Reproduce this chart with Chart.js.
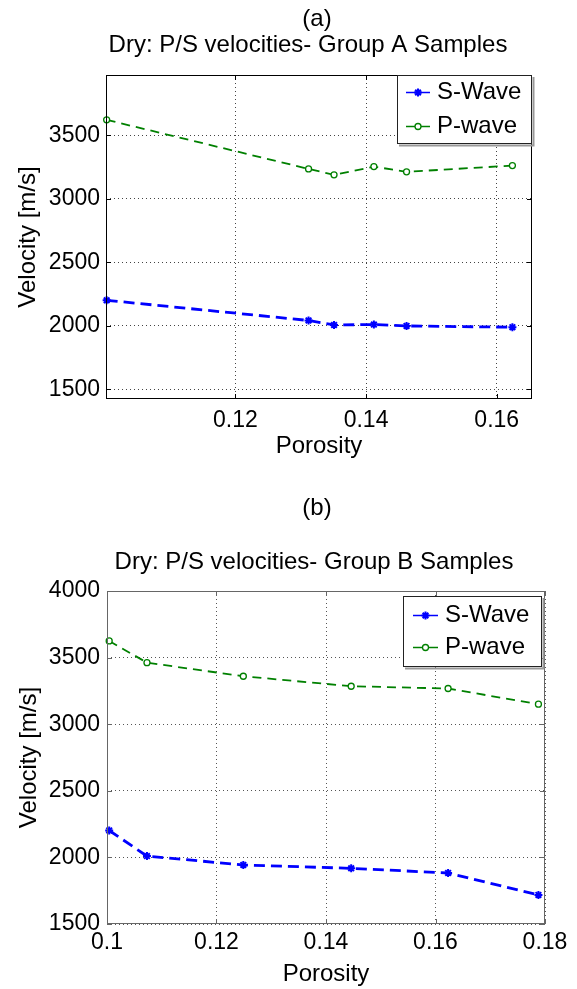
<!DOCTYPE html>
<html>
<head>
<meta charset="utf-8">
<script src="https://cdn.jsdelivr.net/npm/chart.js@4"></script>
<style>
  body { margin: 0; background: #fff; }
  #wrap { position: relative; width: 577px; height: 989px; }
  canvas { position: absolute; left: 0; }
</style>
</head>
<body>
<div id="wrap">
  <canvas id="chartA" width="577" height="470" style="top:0"></canvas>
  <canvas id="chartB" width="577" height="519" style="top:470px"></canvas>
</div>
<script>
// group A samples
const xA = [0.1003, 0.1312, 0.1351, 0.1412, 0.1462, 0.1624];
const sWaveA = [2202, 2043, 2008, 2011, 2000, 1990];
const pWaveA = [3622, 3236, 3189, 3254, 3213, 3262];
const xTicksA = [0.12, 0.14, 0.16];
const yTicksA = [1500, 2000, 2500, 3000, 3500];

// group B samples
const xB = [0.1004, 0.1073, 0.1249, 0.1446, 0.1623, 0.1788];
const sWaveB = [2202, 2010, 1943, 1918, 1883, 1718];
const pWaveB = [3625, 3462, 3360, 3285, 3268, 3150];
const xTicksB = [0.1, 0.12, 0.14, 0.16, 0.18];
const yTicksB = [1500, 2000, 2500, 3000, 3500, 4000];

Chart.defaults.font.family = '"Liberation Sans", Arial, sans-serif';
Chart.defaults.color = '#000';

const toPoints = (xs, ys) => xs.map((x, i) => ({ x: x, y: ys[i] }));

// matlab style box around the axes with inward ticks
const axesBox = {
  id: 'axesBox',
  afterDatasetsDraw(chart, args, opts) {
    const { ctx, chartArea: a, scales } = chart;
    ctx.save();
    ctx.strokeStyle = opts.color;
    ctx.lineWidth = 1;
    ctx.strokeRect(a.left + 0.5, a.top + 0.5, a.width - 1, a.height - 1);
    ctx.beginPath();
    scales.x.ticks.forEach(t => {
      const px = Math.round(scales.x.getPixelForValue(t.value)) + 0.5;
      ctx.moveTo(px, a.bottom); ctx.lineTo(px, a.bottom - 5);
      ctx.moveTo(px, a.top); ctx.lineTo(px, a.top + 5);
    });
    scales.y.ticks.forEach(t => {
      const py = Math.round(scales.y.getPixelForValue(t.value)) + 0.5;
      ctx.moveTo(a.left, py); ctx.lineTo(a.left + 5, py);
      ctx.moveTo(a.right, py); ctx.lineTo(a.right - 5, py);
    });
    ctx.stroke();
    ctx.restore();
  }
};

// move the title blocks so they sit where matlab put them
const titleShift = {
  id: 'titleShift',
  afterLayout(chart, args, o) {
    chart.boxes.forEach(b => {
      if (!b.options || typeof b.options.text !== 'string') return;
      const c = b.options.text.charAt(0) === '(' ? o.tagX : o.titleX;
      b.left = c - 250;
      b.right = c + 250;
    });
  }
};

// legend box inside the plot, top right
const boxLegend = {
  id: 'boxLegend',
  afterDraw(chart, args, o) {
    const { ctx, chartArea } = chart;
    const x = chartArea.right - o.right - o.width;
    const y = chartArea.top + o.top;
    ctx.save();
    ctx.fillStyle = '#fff';
    ctx.fillRect(x, y, o.width, o.height);
    ctx.strokeStyle = '#999';
    ctx.beginPath();
    ctx.moveTo(x + o.width + 2.5, y + 2); ctx.lineTo(x + o.width + 2.5, y + o.height + 2.5);
    ctx.lineTo(x + 2, y + o.height + 2.5);
    ctx.stroke();
    ctx.strokeStyle = '#222';
    ctx.lineWidth = 1;
    ctx.strokeRect(x + 0.5, y + 0.5, o.width, o.height);
    ctx.font = '24px "Liberation Sans", Arial, sans-serif';
    ctx.textBaseline = 'middle';
    chart.data.datasets.forEach((ds, i) => {
      const cy = Math.round(y + o.rowTop + i * o.rowGap) + 0.5;
      ctx.strokeStyle = ds.borderColor;
      ctx.lineWidth = 1.5;
      ctx.beginPath();
      ctx.moveTo(x + o.lineX0, cy); ctx.lineTo(x + o.lineX1, cy);
      ctx.stroke();
      ctx.fillStyle = ds.pointBackgroundColor;
      ctx.lineWidth = ds.pointBorderWidth;
      Chart.helpers.drawPoint(ctx, {
        pointStyle: ds.pointStyle, radius: ds.pointRadius,
        borderWidth: ds.pointBorderWidth, rotation: 0
      }, x + (o.lineX0 + o.lineX1) / 2, cy);
      ctx.fillStyle = '#000';
      ctx.fillText(ds.label, x + o.textX, cy);
    });
    ctx.restore();
  }
};

function makeChart(id, p) {
  return new Chart(document.getElementById(id), {
    type: 'line',
    data: {
      datasets: [
        {
          label: 'S-Wave', data: toPoints(p.xs, p.s),
          borderColor: '#0000ff', borderWidth: 2.8, borderDash: [11, 6],
          pointStyle: 'star', pointRadius: 4, pointBorderWidth: 2,
          pointBorderColor: '#0000ff', pointBackgroundColor: '#0000ff',
          clip: false
        },
        {
          label: 'P-wave', data: toPoints(p.xs, p.p),
          borderColor: '#008000', borderWidth: 1.8, borderDash: [9, 6],
          pointStyle: 'circle', pointRadius: 3, pointBorderWidth: 1.3,
          pointBorderColor: '#008000', pointBackgroundColor: '#ffffff',
          clip: false
        }
      ]
    },
    options: {
      responsive: false,
      animation: false,
      devicePixelRatio: 1,
      layout: { autoPadding: false, padding: { left: 0, top: 0, right: p.padRight, bottom: 0 } },
      plugins: {
        legend: { display: false },
        tooltip: { enabled: false },
        title: {
          display: true, text: p.tag,
          font: { size: 24, weight: 'normal', lineHeight: 1 },
          padding: { top: p.tagTop, bottom: 0 }
        },
        subtitle: {
          display: true, text: p.title,
          font: { size: 24, weight: 'normal', lineHeight: 1 }, color: '#000',
          padding: { top: p.titleGap, bottom: p.titleBottom }
        },
        axesBox: { color: p.frame },
        titleShift: { tagX: p.tagX, titleX: p.titleX },
        boxLegend: p.legend
      },
      scales: {
        x: {
          type: 'linear', min: p.xMin, max: p.xMax,
          afterBuildTicks: s => { s.ticks = p.xTicks.map(v => ({ value: v })); },
          afterFit: s => { s.height = p.xAxisH; },
          grid: { color: p.grid, lineWidth: 1, drawTicks: false },
          border: { display: false, dash: [1, 3] },
          ticks: {
            padding: p.xTickPad, maxRotation: 0, autoSkip: false,
            font: { size: 23 },
            callback: v => String(Math.round(v * 100) / 100)
          },
          title: {
            display: true, text: 'Porosity',
            font: { size: 24 }, padding: { top: 0, bottom: p.xTitlePad }
          }
        },
        y: {
          type: 'linear', min: p.yMin, max: p.yMax,
          afterBuildTicks: s => { s.ticks = p.yTicks.map(v => ({ value: v })); },
          afterFit: s => { s.width = p.yAxisW; },
          grid: { color: p.grid, lineWidth: 1, drawTicks: false },
          border: { display: false, dash: [1, 3] },
          ticks: { padding: p.yTickPad, autoSkip: false, font: { size: 23 }, callback: v => String(v) },
          title: {
            display: true, text: 'Velocity [m/s]',
            font: { size: 24 }, padding: { top: p.yTitlePad, bottom: 0 }
          }
        }
      }
    },
    plugins: [titleShift, axesBox, boxLegend]
  });
}

makeChart('chartA', {
  xs: xA, s: sWaveA, p: pWaveA,
  xTicks: xTicksA, yTicks: yTicksA,
  xMin: 0.1002, xMax: 0.1654, yMin: 1425, yMax: 3975,
  tag: '(a)', title: 'Dry: P/S velocities- Group A Samples',
  tagX: 317, titleX: 308,
  tagTop: 7, titleGap: 2, titleBottom: 18,
  padRight: 45, xAxisH: 71, yAxisW: 106,
  xTickPad: 8, xTitlePad: 9, yTickPad: 6, yTitlePad: 14,
  frame: '#000', grid: '#444',
  legend: { width: 134, height: 68, right: 1, top: 0, rowTop: 17, rowGap: 34, lineX0: 9, lineX1: 33, textX: 40 }
});

makeChart('chartB', {
  xs: xB, s: sWaveB, p: pWaveB,
  xTicks: xTicksB, yTicks: yTicksB,
  xMin: 0.1, xMax: 0.18, yMin: 1500, yMax: 4000,
  tag: '(b)', title: 'Dry: P/S velocities- Group B Samples',
  tagX: 317, titleX: 314,
  tagTop: 26, titleGap: 30, titleBottom: 17,
  padRight: 32, xAxisH: 65, yAxisW: 107,
  xTickPad: 5, xTitlePad: 0, yTickPad: 7, yTitlePad: 15,
  frame: '#666', grid: '#555',
  legend: { width: 138, height: 70, right: 4, top: 5, rowTop: 19, rowGap: 32, lineX0: 10, lineX1: 35, textX: 42 }
});
</script>
</body>
</html>
